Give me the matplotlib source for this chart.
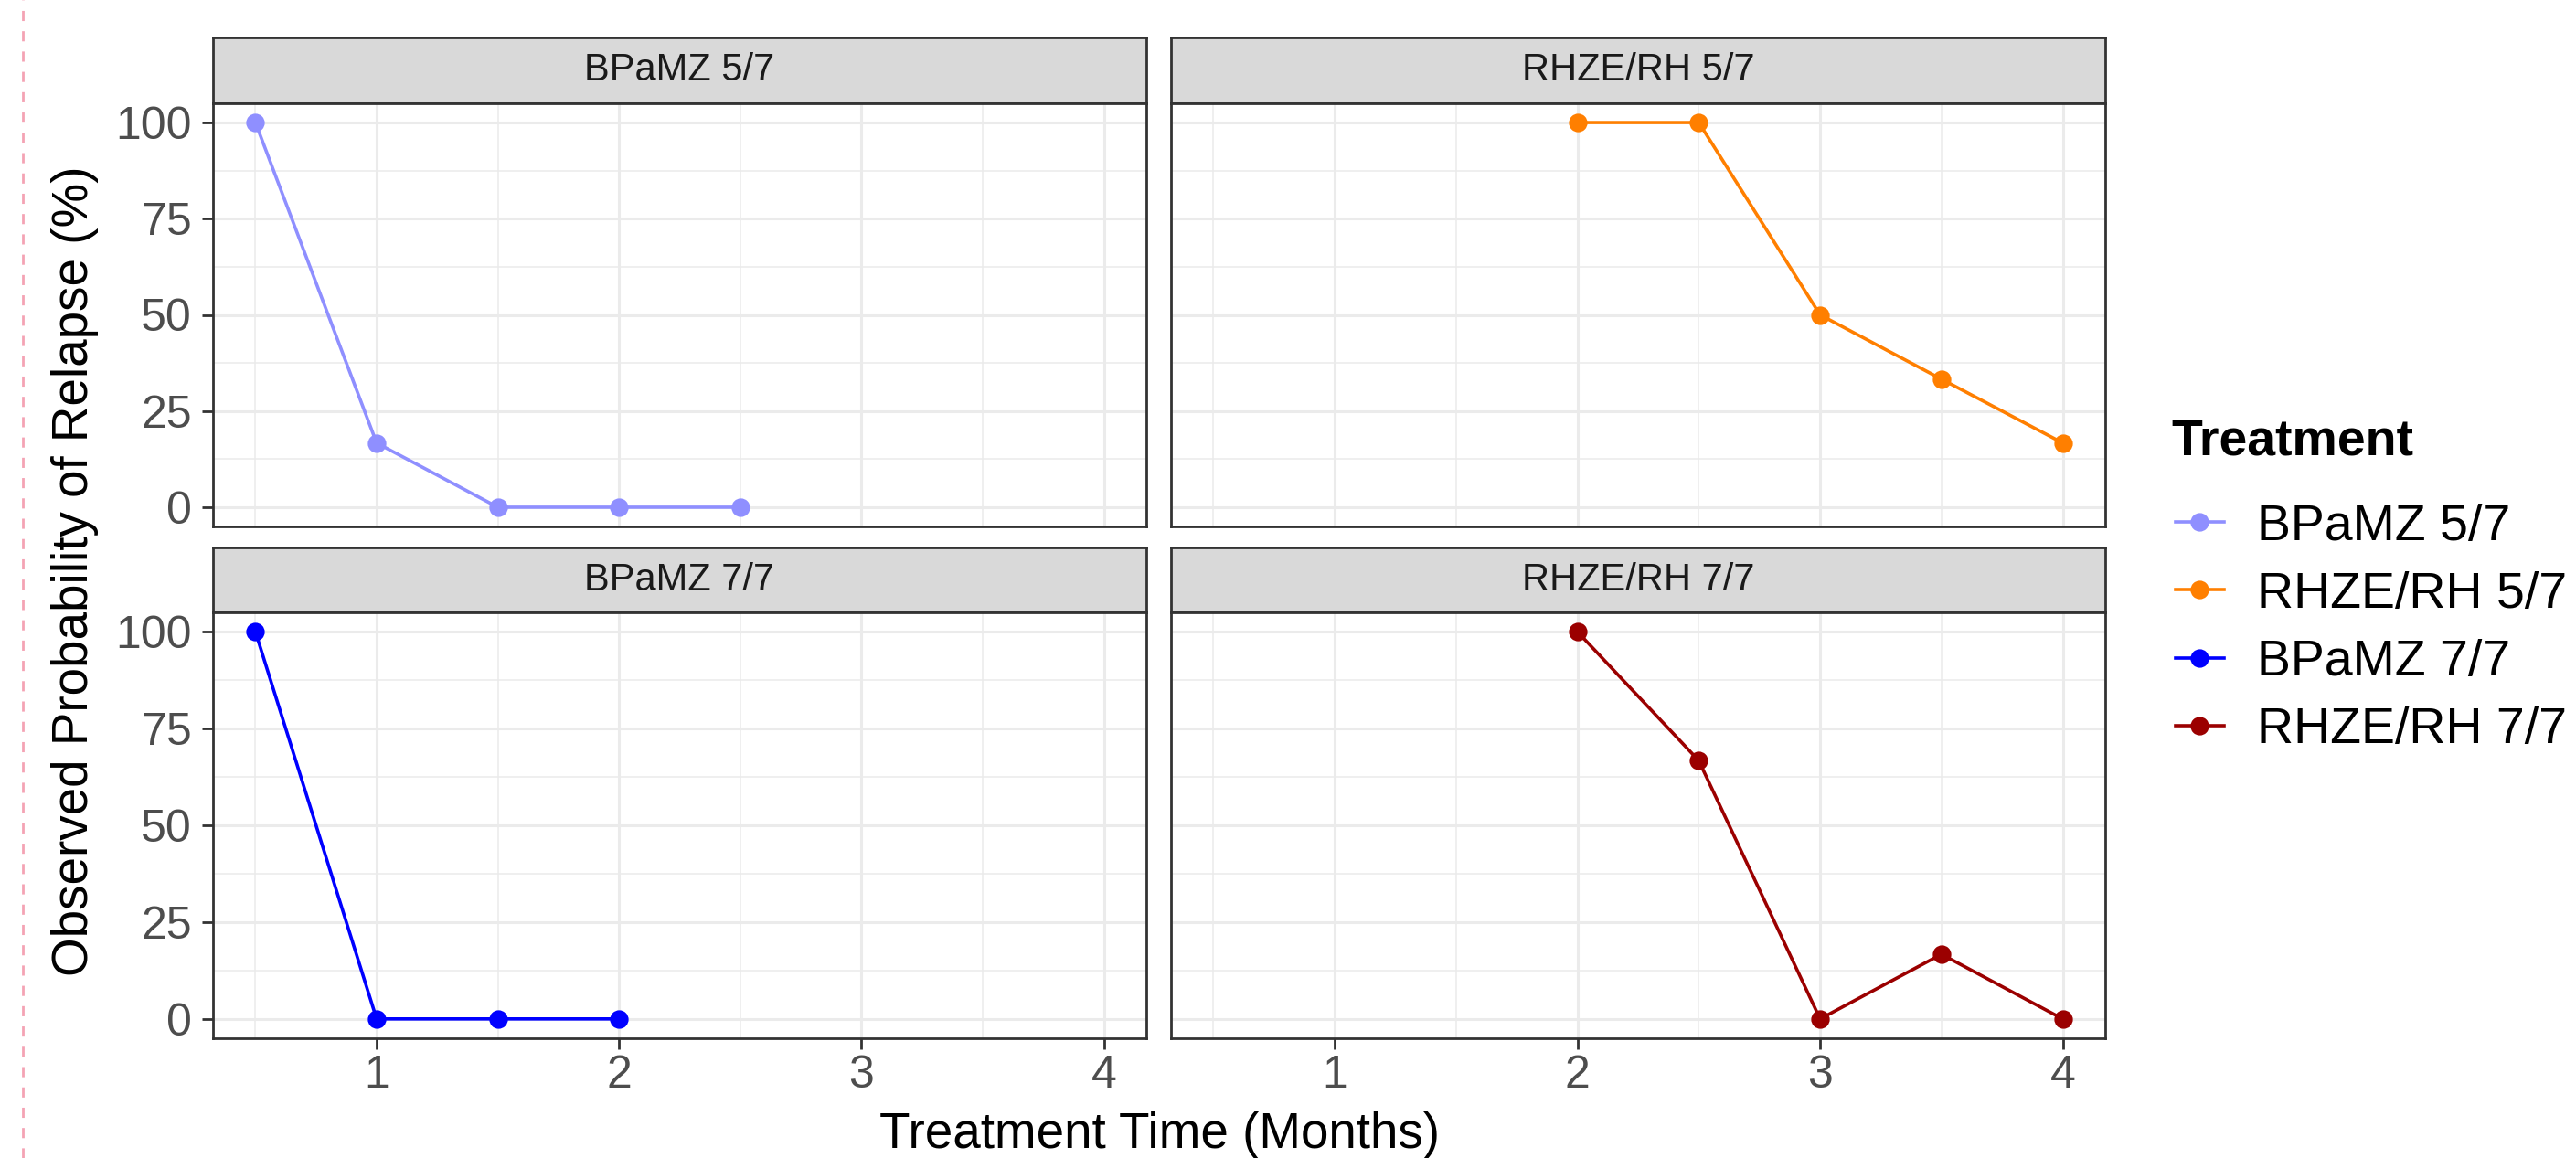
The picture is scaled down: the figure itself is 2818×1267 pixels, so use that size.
import matplotlib
matplotlib.use('Agg')
import matplotlib.pyplot as plt
from matplotlib.lines import Line2D
from matplotlib.ticker import MultipleLocator

plt.rcParams['font.family'] = ['Liberation Sans', 'DejaVu Sans']

# data
treatments = ['BPaMZ 5/7', 'RHZE/RH 5/7', 'BPaMZ 7/7', 'RHZE/RH 7/7']
colors = ['#8F8FFF', '#FF7F00', '#0000FF', '#9B0000']
months_bpamz_5 = [0.5, 1, 1.5, 2, 2.5]
relapse_bpamz_5 = [100, 16.7, 0, 0, 0]
months_rhze_5 = [2, 2.5, 3, 3.5, 4]
relapse_rhze_5 = [100, 100, 50, 33.3, 16.7]
months_bpamz_7 = [0.5, 1, 1.5, 2]
relapse_bpamz_7 = [100, 0, 0, 0]
months_rhze_7 = [2, 2.5, 3, 3.5, 4]
relapse_rhze_7 = [100, 66.7, 0, 16.7, 0]

series = [(months_bpamz_5, relapse_bpamz_5),
          (months_rhze_5, relapse_rhze_5),
          (months_bpamz_7, relapse_bpamz_7),
          (months_rhze_7, relapse_rhze_7)]

W, H, DPI = 2818, 1267, 200
fig = plt.figure(figsize=(W / DPI, H / DPI), dpi=DPI)


def box(x0, y0, x1, y1):
    # pixel box (top-left origin) -> figure fraction rect
    return [x0 / W, 1 - y1 / H, (x1 - x0) / W, (y1 - y0) / H]


cols = [(233, 1254), (1281, 2303)]
rows = [(41, 113, 576), (599, 670, 1136)]
border = '#333333'

for i, (name, col, (xs, ys)) in enumerate(zip(treatments, colors, series)):
    r, c = divmod(i, 2)
    x0, x1 = cols[c]
    s0, a0, a1 = rows[r]

    # strip
    st = fig.add_axes(box(x0, s0, x1, a0))
    st.set_facecolor('#D9D9D9')
    st.set_xticks([])
    st.set_yticks([])
    for sp in st.spines.values():
        sp.set_color(border)
        sp.set_linewidth(1.0)
    st.text(0.5, 0.5, name, ha='center', va='center', fontsize=15,
            color='#1A1A1A', transform=st.transAxes)

    ax = fig.add_axes(box(x0, a0, x1, a1))
    ax.plot(xs, ys, color=col, lw=1.3, marker='o', ms=6.3, zorder=3)
    ax.set_xlim(0.325, 4.175)
    ax.set_ylim(-5, 105)
    ax.xaxis.set_major_locator(MultipleLocator(1))
    ax.xaxis.set_minor_locator(MultipleLocator(0.5))
    ax.yaxis.set_major_locator(MultipleLocator(25))
    ax.yaxis.set_minor_locator(MultipleLocator(12.5))
    ax.grid(which='major', color='#EBEBEB', lw=1.1)
    ax.grid(which='minor', color='#EBEBEB', lw=0.55)
    ax.set_axisbelow(True)
    for sp in ax.spines.values():
        sp.set_color(border)
        sp.set_linewidth(1.0)
    ax.tick_params(which='minor', length=0)
    ax.tick_params(which='major', length=4.3, width=1.0, color=border,
                   labelsize=18, labelcolor='#4D4D4D')
    ax.tick_params(axis='y', pad=4)
    ax.tick_params(axis='x', pad=2)
    if c == 1:
        ax.tick_params(axis='y', which='both', left=False, labelleft=False)
    if r == 0:
        ax.tick_params(axis='x', which='both', bottom=False, labelbottom=False)

fig.text(1269 / W, 1 - 1242 / H, 'Treatment Time (Months)', ha='center',
         va='center', fontsize=19.7, color='black')
fig.text(82 / W, 1 - 625 / H, 'Observed Probability of Relapse (%)',
         ha='center', va='center', rotation=90, fontsize=19.7, color='black')

# legend
fig.text(2375 / W, 1 - 483 / H, 'Treatment', ha='left', va='center',
         fontsize=20, fontweight='bold', color='black')
handles = [Line2D([], [], color=c, lw=1.3, marker='o', ms=6.3) for c in colors]
fig.legend(handles, treatments, loc='center left',
           bbox_to_anchor=(2380 / W, 1 - 688 / H), frameon=False,
           fontsize=20, handlelength=0.95, handletextpad=0.65,
           labelspacing=0.4, borderaxespad=0, borderpad=0)

# dashed pink guide at left edge
fig.add_artist(Line2D([25 / W, 25 / W], [0, 1], color='#F4A3B4', lw=1.0,
                      ls=(0, (4, 4)), transform=fig.transFigure))

fig.savefig('out.png', dpi=DPI)
